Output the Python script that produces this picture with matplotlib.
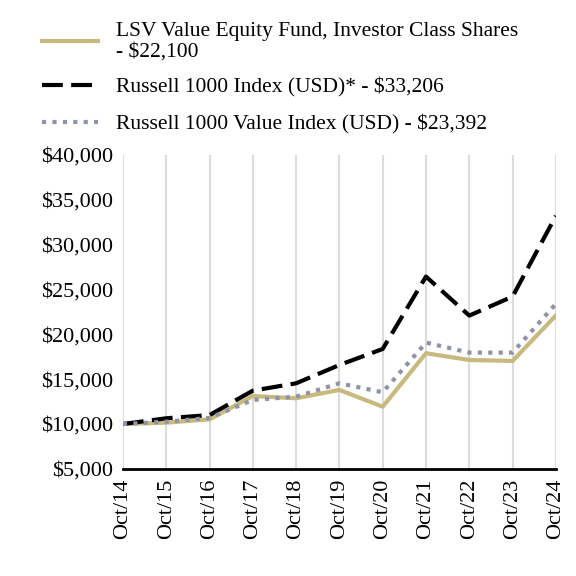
import matplotlib
matplotlib.use("Agg")
import matplotlib.pyplot as plt
from matplotlib.ticker import FuncFormatter

years = ["Oct/14", "Oct/15", "Oct/16", "Oct/17", "Oct/18", "Oct/19",
         "Oct/20", "Oct/21", "Oct/22", "Oct/23", "Oct/24"]

fund = [10000, 10150, 10520, 13120, 12870, 13800, 11930, 17890, 17140, 17030, 22100]
russell_1000 = [10000, 10640, 11000, 13720, 14540, 16580, 18370, 26440, 22090, 24210, 33206]
russell_value = [10000, 10260, 10680, 12680, 13050, 14540, 13540, 19080, 17960, 17960, 23392]

labels = [
    "LSV Value Equity Fund, Investor Class Shares\n- $22,100",
    "Russell 1000 Index (USD)* - $33,206",
    "Russell 1000 Value Index (USD) - $23,392",
]

plt.rcParams["font.family"] = ["Liberation Serif", "DejaVu Serif"]

fig = plt.figure(figsize=(5.76, 5.76), dpi=100)
ax = fig.add_axes([0.2135, 0.186, 0.7515, 0.545])

x = list(range(len(years)))
ax.plot(x, fund, color="#c8b97e", lw=3, label=labels[0])
ax.plot(x, russell_1000, color="black", lw=3, linestyle=(0, (5, 2)), label=labels[1])
ax.plot(x, russell_value, color="#8e94a8", lw=3, linestyle=(0, (1, 1.5)), label=labels[2])

ax.set_xlim(0, len(years) - 1)
ax.set_ylim(5000, 40000)
ax.set_yticks(range(5000, 40001, 5000))
ax.yaxis.set_major_formatter(FuncFormatter(lambda v, p: f"${v:,.0f}"))
ax.set_xticks(x)
ax.set_xticklabels(years, rotation=90)
ax.tick_params(labelsize=16, length=0, pad=7)
ax.grid(axis="x", color="#dcdcdc", lw=1.5)
for s in ["top", "right", "left"]:
    ax.spines[s].set_visible(False)
ax.spines["bottom"].set_linewidth(2)

leg = fig.legend(loc="upper left", bbox_to_anchor=(0.04, 0.995), frameon=False,
                 fontsize=15.5, handlelength=2.6, handletextpad=0.8, labelspacing=0.75)
for t in leg.get_texts():
    t.set_linespacing(1.1)

fig.savefig("out.png", dpi=100)
